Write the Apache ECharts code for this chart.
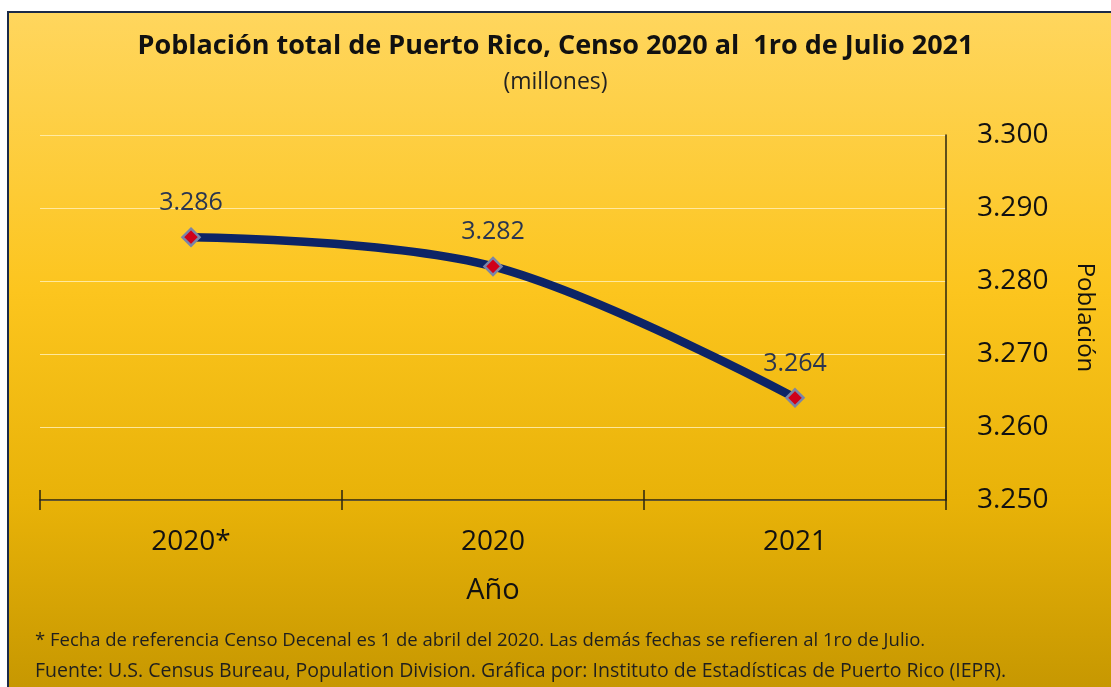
<!DOCTYPE html>
<html>
<head>
<meta charset="utf-8">
<script src="https://cdn.jsdelivr.net/npm/echarts@6/dist/echarts.min.js"></script>
<style>
html,body{margin:0;padding:0;background:#fff;}
#c{width:1111px;height:687px;}
</style>
</head>
<body>
<div id="c"></div>
<script>
var categories = ['2020*', '2020', '2021'];
var poblacion = [3.286, 3.282, 3.264];
var yTicks = [3.25, 3.26, 3.27, 3.28, 3.29, 3.30];

var FONT = 'Open Sans';
var chart = echarts.init(document.getElementById('c'));
chart.setOption({
  animation: false,
  textStyle: {fontFamily: FONT},
  graphic: [
    {
      type: 'rect', z: -10, silent: true,
      shape: {x: 8, y: 12, width: 1120, height: 700},
      style: {
        fill: new echarts.graphic.LinearGradient(0, 0, 0, 1, [
          {offset: 0, color: '#FFD65E'},
          {offset: 0.4, color: '#FCC51E'},
          {offset: 0.7, color: '#E8B208'},
          {offset: 1, color: '#C29400'}
        ]),
        stroke: '#1b2a48', lineWidth: 2
      }
    },
    {
      type: 'text', left: 35, top: 631,
      style: {text: '* Fecha de referencia Censo Decenal es 1 de abril del 2020. Las demás fechas se refieren al 1ro de Julio.', fontSize: 18.5, fontFamily: FONT, fill: '#1f1f1f'}
    },
    {
      type: 'text', left: 35, top: 661,
      style: {text: 'Fuente: U.S. Census Bureau, Population Division. Gráfica por: Instituto de Estadísticas de Puerto Rico (IEPR).', fontSize: 19.5, fontFamily: FONT, fill: '#1f1f1f'}
    }
  ],
  title: {
    text: 'Población total de Puerto Rico, Censo 2020 al  1ro de Julio 2021',
    subtext: '(millones)',
    left: 'center', top: 28, itemGap: 11,
    textStyle: {fontSize: 27, fontWeight: 'bold', color: '#111', fontFamily: FONT},
    subtextStyle: {fontSize: 23, color: '#222', fontFamily: FONT}
  },
  grid: {left: 40, right: 165, top: 135, bottom: 187},
  xAxis: [
    {
      type: 'category', data: categories, boundaryGap: true,
      name: 'Año', nameLocation: 'middle', nameGap: 76,
      nameTextStyle: {fontSize: 29, color: '#111', fontFamily: FONT},
      axisLine: {lineStyle: {color: '#2a2410', width: 1.5}},
      axisTick: {show: true, length: 10, lineStyle: {color: '#2a2410', width: 1.5}},
      axisLabel: {fontSize: 28, color: '#111', margin: 28, fontFamily: FONT}
    },
    {
      type: 'category', data: categories, boundaryGap: true, position: 'bottom',
      axisLine: {show: false},
      axisTick: {show: true, inside: true, length: 10, lineStyle: {color: '#2a2410', width: 1.5}},
      axisLabel: {show: false}
    }
  ],
  yAxis: {
    type: 'value', position: 'right', min: 3.25, max: 3.30, interval: 0.01,
    name: 'Población', nameLocation: 'middle', nameRotate: -90, nameGap: 127,
    nameTextStyle: {fontSize: 24, color: '#111', fontFamily: FONT},
    axisLine: {show: true, lineStyle: {color: '#2a2410', width: 1.5}},
    axisTick: {show: false},
    axisLabel: {fontSize: 28, color: '#111', margin: 31, fontFamily: FONT,
      formatter: function (v) { return v.toFixed(3); }},
    splitLine: {lineStyle: {color: 'rgba(255,238,180,0.85)', width: 1.2}}
  },
  series: [{
    type: 'line', xAxisIndex: 0, data: poblacion, smooth: 0.35,
    lineStyle: {color: '#0d2466', width: 8.5},
    symbol: 'diamond', symbolSize: 17,
    itemStyle: {color: '#d0001a', borderColor: '#7b84a8', borderWidth: 2.5},
    label: {show: true, position: 'top', distance: 12, fontSize: 25, color: '#2a3550', fontFamily: FONT,
      formatter: function (p) { return p.value.toFixed(3); }}
  }]
});
</script>
</body>
</html>
